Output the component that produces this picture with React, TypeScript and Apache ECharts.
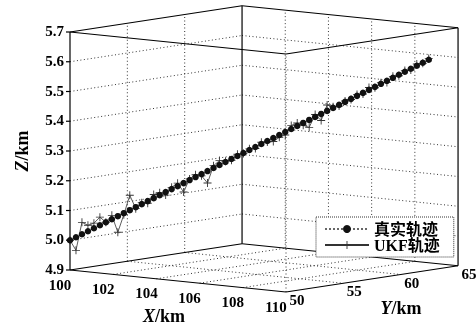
import React, { useEffect, useRef } from 'react';
import * as echarts from 'echarts';

// ---- axis ticks ----
const xTicks = [100, 102, 104, 106, 108, 110];
const yTicks = [50, 55, 60, 65];
const zTicks = [4.9, 5.0, 5.1, 5.2, 5.3, 5.4, 5.5, 5.6, 5.7];
const xTickLabels = ['100', '102', '104', '106', '108', '110'];
const yTickLabels = ['50', '55', '60', '65'];
const zTickLabels = ['4.9', '5.0', '5.1', '5.2', '5.3', '5.4', '5.5', '5.6', '5.7'];

// ---- series data (km) ----
const trueX = [100, 100.16, 100.32, 100.48, 100.64, 100.8, 100.96, 101.12, 101.28, 101.44, 101.6, 101.76, 101.92, 102.08, 102.24, 102.4, 102.56, 102.72, 102.88, 103.04, 103.2, 103.36, 103.52, 103.68, 103.84, 104, 104.16, 104.32, 104.48, 104.64, 104.8, 104.96, 105.12, 105.28, 105.44, 105.6, 105.76, 105.92, 106.08, 106.24, 106.4, 106.56, 106.72, 106.88, 107.04, 107.2, 107.36, 107.52, 107.68, 107.84, 108, 108.16, 108.32, 108.48, 108.64, 108.8, 108.96, 109.12, 109.28, 109.44, 109.6];
const trueY = [50, 50.22, 50.44, 50.66, 50.88, 51.1, 51.32, 51.54, 51.76, 51.98, 52.2, 52.42, 52.64, 52.86, 53.08, 53.3, 53.52, 53.74, 53.96, 54.18, 54.4, 54.62, 54.84, 55.06, 55.28, 55.5, 55.72, 55.94, 56.16, 56.38, 56.6, 56.82, 57.04, 57.26, 57.48, 57.7, 57.92, 58.14, 58.36, 58.58, 58.8, 59.02, 59.24, 59.46, 59.68, 59.9, 60.12, 60.34, 60.56, 60.78, 61, 61.22, 61.44, 61.66, 61.88, 62.1, 62.32, 62.54, 62.76, 62.98, 63.2];
const trueZ = [5.0, 5.01, 5.02, 5.03, 5.04, 5.05, 5.06, 5.07, 5.08, 5.09, 5.1, 5.11, 5.12, 5.13, 5.14, 5.15, 5.16, 5.17, 5.18, 5.19, 5.2, 5.21, 5.22, 5.23, 5.24, 5.25, 5.26, 5.27, 5.28, 5.29, 5.3, 5.31, 5.32, 5.33, 5.34, 5.35, 5.36, 5.37, 5.38, 5.39, 5.4, 5.41, 5.42, 5.43, 5.44, 5.45, 5.46, 5.47, 5.48, 5.49, 5.5, 5.51, 5.52, 5.53, 5.54, 5.55, 5.56, 5.57, 5.58, 5.59, 5.6];
const ukfX = trueX;
const ukfY = trueY;
const ukfZ = [5.0, 4.966, 5.06, 5.05, 5.057, 5.077, 5.06, 5.083, 5.026, 5.085, 5.15, 5.105, 5.125, 5.123, 5.152, 5.158, 5.15, 5.176, 5.19, 5.16, 5.204, 5.218, 5.214, 5.19, 5.248, 5.265, 5.263, 5.266, 5.286, 5.288, 5.304, 5.305, 5.326, 5.327, 5.328, 5.342, 5.35, 5.382, 5.39, 5.382, 5.375, 5.418, 5.398, 5.45, 5.444, 5.446, 5.463, 5.468, 5.485, 5.486, 5.508, 5.507, 5.524, 5.524, 5.545, 5.547, 5.564, 5.566, 5.586, 5.588, 5.604];

const seriesNames = ['真实轨迹', 'UKF轨迹'];
const axisTitles = ['X', 'Y', 'Z'];

// ---- projection layout (screen units per km) ----
const ORIGIN = [70, 270];
const EX = [21.6, 2.2];
const EY = [11.47, -1.75];
const EZ = [0, -297.5];

function proj(x: number, y: number, z: number): number[] {
  const dx = x - xTicks[0];
  const dy = y - yTicks[0];
  const dz = z - zTicks[0];
  return [
    ORIGIN[0] + dx * EX[0] + dy * EY[0] + dz * EZ[0],
    ORIGIN[1] + dx * EX[1] + dy * EY[1] + dz * EZ[1],
  ];
}

const SERIF = '"Liberation Serif", "Times New Roman", serif';
const LEGEND_FONT = '"Liberation Serif", "Noto Sans CJK SC", serif';

export default function App() {
  const ref = useRef<HTMLDivElement>(null);
  useEffect(() => {
    if (!ref.current) return;
    const chart = echarts.init(ref.current, undefined, { renderer: 'svg' });

    const renderFrame = (params: any, api: any) => {
      const P = (x: number, y: number, z: number) => api.coord(proj(x, y, z));
      const xa = xTicks[0], xb = xTicks[xTicks.length - 1];
      const ya = yTicks[0], yb = yTicks[yTicks.length - 1];
      const za = zTicks[0], zb = zTicks[zTicks.length - 1];
      const children: any[] = [];
      const seg = (p: number[], q: number[], dotted: boolean) => {
        children.push({
          type: 'line',
          silent: true,
          shape: { x1: p[0], y1: p[1], x2: q[0], y2: q[1] },
          style: dotted
            ? { stroke: '#333', lineWidth: 1, lineDash: [1, 2.5] }
            : { stroke: '#000', lineWidth: 1.2 },
        });
      };
      // grid lines
      xTicks.slice(1, -1).forEach((x) => {
        seg(P(x, ya, za), P(x, yb, za), true);
        seg(P(x, yb, za), P(x, yb, zb), true);
      });
      yTicks.slice(1, -1).forEach((y) => {
        seg(P(xa, y, za), P(xb, y, za), true);
        seg(P(xa, y, za), P(xa, y, zb), true);
      });
      zTicks.slice(1, -1).forEach((z) => {
        seg(P(xa, ya, z), P(xa, yb, z), true);
        seg(P(xa, yb, z), P(xb, yb, z), true);
      });
      seg(P(xb, ya, za), P(xb, ya, zb), true);
      // box
      seg(P(xa, ya, zb), P(xb, ya, zb), false);
      seg(P(xb, ya, zb), P(xb, yb, zb), false);
      seg(P(xb, yb, zb), P(xa, yb, zb), false);
      seg(P(xa, yb, zb), P(xa, ya, zb), false);
      seg(P(xa, ya, za), P(xa, ya, zb), false);
      seg(P(xb, yb, za), P(xb, yb, zb), false);
      seg(P(xa, yb, za), P(xa, yb, zb), false);
      seg(P(xa, ya, za), P(xb, ya, za), false);
      seg(P(xb, ya, za), P(xb, yb, za), false);
      seg(P(xa, ya, za), P(xa, yb, za), false);
      seg(P(xa, yb, za), P(xb, yb, za), false);

      const text = (s: string, p: number[], align: string, extra: any = {}) => {
        children.push({
          type: 'text',
          silent: true,
          x: p[0],
          y: p[1],
          style: {
            text: s,
            fill: '#000',
            fontFamily: SERIF,
            fontSize: 15,
            fontWeight: 'bold',
            align,
            verticalAlign: 'middle',
            ...extra,
          },
        });
      };
      // z ticks
      zTicks.forEach((z, i) => {
        const p = P(xa, ya, z);
        seg([p[0] - 4, p[1]], p, false);
        text(zTickLabels[i], [p[0] - 6, p[1] - 1], 'right');
      });
      xTicks.forEach((x, i) => {
        const p = P(x, ya, za);
        text(xTickLabels[i], [p[0] - 10, p[1] + 14.5], 'center');
      });
      yTicks.forEach((y, i) => {
        const p = P(xb, y, za);
        text(yTickLabels[i], [p[0] + 11, p[1] + 8], 'center');
      });
      // axis titles
      const titleStyle = {
        fontSize: 18,
        rich: { v: { fontStyle: 'italic', fontSize: 18, fontWeight: 'bold', fontFamily: SERIF } },
      };
      const xm = P((xa + xb) / 2, ya, za);
      text('{v|' + axisTitles[0] + '}/km', [xm[0] - 14, xm[1] + 35], 'center', titleStyle);
      const ym = P(xb, (ya + yb) / 2, za);
      text('{v|' + axisTitles[1] + '}/km', [ym[0] + 29, ym[1] + 29], 'center', titleStyle);
      const zm = P(xa, ya, (za + zb) / 2);
      children.push({
        type: 'text',
        silent: true,
        x: zm[0] - 48,
        y: zm[1],
        rotation: Math.PI / 2,
        style: {
          text: '{v|' + axisTitles[2] + '}/km',
          fill: '#000',
          fontFamily: SERIF,
          fontSize: 18,
          fontWeight: 'bold',
          align: 'center',
          verticalAlign: 'middle',
          rich: titleStyle.rich,
        },
      });
      return { type: 'group', children };
    };

    chart.setOption({
      animation: false,
      grid: { left: 0, right: 0, top: 0, bottom: 0 },
      xAxis: { type: 'value', min: 0, max: 476, show: false },
      yAxis: { type: 'value', min: 0, max: 326, inverse: true, show: false },
      legend: {
        left: 316,
        top: 217,
        orient: 'vertical',
        itemWidth: 44,
        itemHeight: 10,
        itemGap: 0,
        padding: [4, 14, 4, 8],
        backgroundColor: '#fff',
        borderColor: '#333',
        borderWidth: 1,
        borderType: 'dotted',
        textStyle: { fontFamily: LEGEND_FONT, fontSize: 16, fontWeight: 'bold', color: '#000', lineHeight: 16 },
        data: seriesNames,
      },
      series: [
        {
          type: 'custom',
          coordinateSystem: 'cartesian2d',
          data: [[0, 0]],
          renderItem: renderFrame,
          silent: true,
          z: 1,
        },
        {
          name: seriesNames[1],
          type: 'line',
          data: ukfX.map((x, i) => proj(x, ukfY[i], ukfZ[i])),
          symbol: 'path://M4,0h1v4h4v1h-4v4h-1v-4h-4v-1h4z',
          symbolSize: 8,
          showAllSymbol: true,
          itemStyle: { color: '#333' },
          lineStyle: { color: '#333', width: 0.8 },
          z: 2,
        },
        {
          name: seriesNames[0],
          type: 'line',
          data: trueX.map((x, i) => proj(x, trueY[i], trueZ[i])),
          symbol: 'circle',
          symbolSize: 6.5,
          showAllSymbol: true,
          itemStyle: { color: '#111' },
          lineStyle: { color: '#666', width: 1, type: 'dotted' },
          z: 3,
        },
      ],
    });
    return () => chart.dispose();
  }, []);
  return <div ref={ref} style={{ position: 'fixed', left: 0, top: 0, width: 476, height: 326 }} />;
}
